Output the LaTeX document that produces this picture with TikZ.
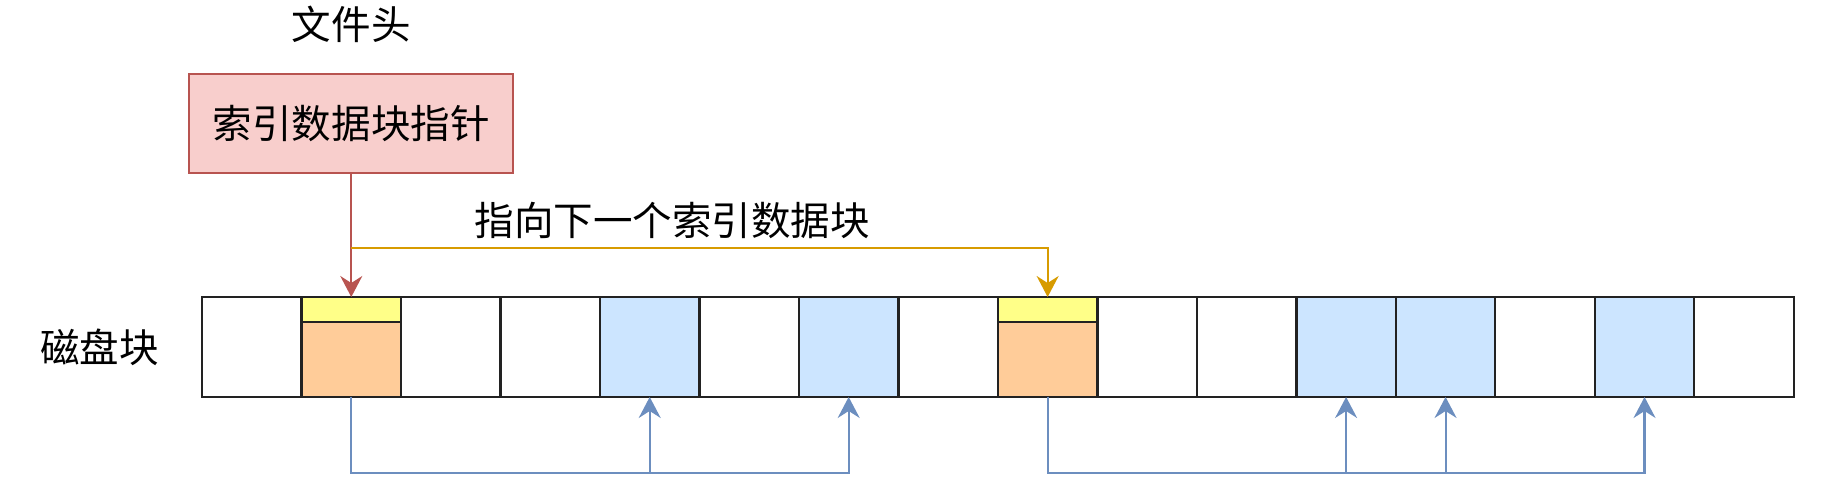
\documentclass[tikz,border=0pt]{standalone}
\usepackage{fontspec}
\setmainfont{Noto Sans CJK SC}
\usepackage{xcolor}
\usepackage{tikz}
\usetikzlibrary{arrows.meta,positioning}

\definecolor{cellline}{HTML}{222222}
\definecolor{datablue}{HTML}{CCE5FF}
\definecolor{idxorange}{HTML}{FFCC99}
\definecolor{stripyellow}{HTML}{FFFF88}
\definecolor{ptrpink}{HTML}{F8CECC}
\definecolor{ptrred}{HTML}{B85450}
\definecolor{nextorange}{HTML}{D79B00}
\definecolor{linkblue}{HTML}{6C8EBF}

\begin{document}
\begin{tikzpicture}[
  x=0.02cm, y=-0.02cm,
  font=\fontsize{22.5}{27}\selectfont,
  cell/.style={draw=cellline, line width=1.3pt, minimum width=1.99cm,
    minimum height=2cm, inner sep=0pt, outer sep=0pt},
  freeblk/.style={cell, fill=white},
  datablk/.style={cell, fill=datablue},
  idxblk/.style={cell, fill=idxorange},
  strip/.style={draw=cellline, line width=1.3pt, fill=stripyellow,
    minimum width=1.99cm, minimum height=0.5cm, inner sep=0pt, outer sep=0pt},
  lbl/.style={inner sep=0pt},
  ptrbox/.style={draw=ptrred, fill=ptrpink, line width=1.2pt, outer sep=0pt,
    minimum width=6.48cm, minimum height=1.98cm},
  tip/.style={-{Stealth[length=0.42cm, width=0.44cm, inset=0.14cm]}, line width=1.2pt},
  ptr/.style={tip, draw=ptrred, fill=ptrred},
  nextarr/.style={tip, draw=nextorange},
  link/.style={tip, draw=linkblue},
]
\useasboundingbox (0,0) rectangle (1843,503);

% disk blocks
\node[freeblk] (c0) at (251.8,347) {};
\foreach \i/\kind [remember=\i as \p (initially 0)] in {1/idxblk,2/freeblk,3/freeblk,
    4/datablk,5/freeblk,6/datablk,7/freeblk,8/idxblk,9/freeblk,10/freeblk,
    11/datablk,12/datablk,13/freeblk,14/datablk,15/freeblk}
  \node[\kind, right=0pt of c\p] (c\i) {};
\node[strip, anchor=north] (s1) at (c1.north) {};
\node[strip, anchor=north] (s8) at (c8.north) {};
\node[lbl, left=0.86cm of c0] (disk) {磁盘块};

% file header
\node[ptrbox, above=2.48cm of c1] (ptr) {索引数据块指针};
\node[lbl, above=0.62cm of ptr] (filehead) {文件头};
\draw[ptr] (ptr) -- (s1);

% next index block
\coordinate[above=0.98cm of s1] (split);
\draw[nextarr] (split) -| (s8);
\node[lbl, above right=0.18cm and 2.46cm of split] (nextlbl) {指向下一个索引数据块};

% data block links
\coordinate[below=1.52cm of c1] (j1);
\coordinate[below=1.52cm of c8] (j8);
\draw[link] (c1) -- (j1) -| (c6);
\draw[link] (j1 -| c4) -- (c4);
\draw[link] (c8) -- (j8) -| (c14);
\foreach \k in {11,12}
  \draw[link] (j8 -| c\k) -- (c\k);
\end{tikzpicture}
\end{document}
